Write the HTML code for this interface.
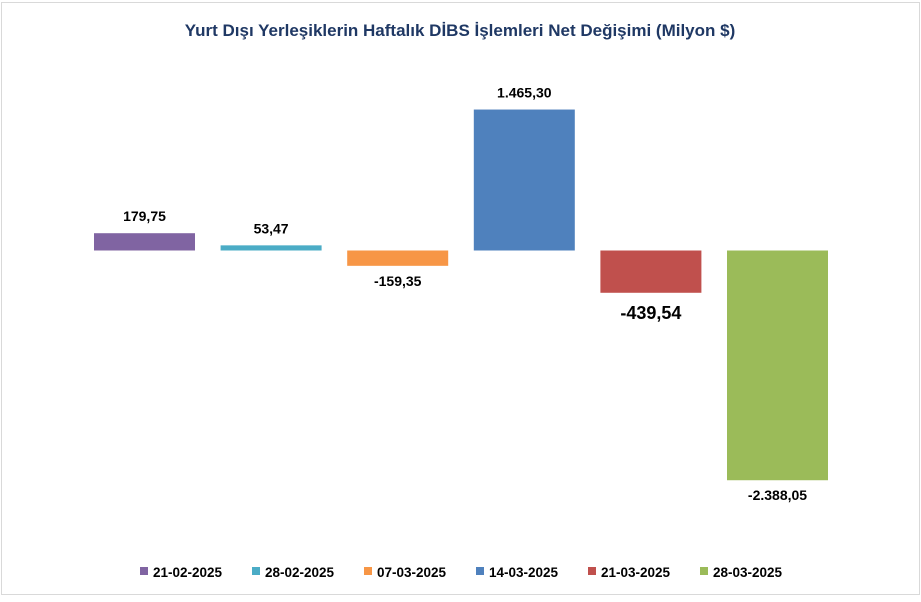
<!DOCTYPE html>
<html><head><meta charset="utf-8"><style>
body{margin:0;background:#fff;font-family:"Liberation Sans",sans-serif}
</style></head><body>
<svg width="921" height="597" xmlns="http://www.w3.org/2000/svg">
<rect x="1.5" y="2.5" width="918" height="592" fill="#fff" stroke="#d9d9d9"/>
<text x="460" y="36" text-anchor="middle" font-size="17" font-weight="bold" fill="#1f3864">Yurt Dışı Yerleşiklerin Haftalık DİBS İşlemleri Net Değişimi (Milyon $)</text>
<g id="bars"></g>
<g id="legend"></g>
</svg>
<script>
const categories=["21-02-2025","28-02-2025","07-03-2025","14-03-2025","21-03-2025","28-03-2025"];
const values=[179.75,53.47,-159.35,1465.30,-439.54,-2388.05];
const labels=["179,75","53,47","-159,35","1.465,30","-439,54","-2.388,05"];
const colors=["#8064a2","#4bacc6","#f79646","#4f81bd","#c0504d","#9bbb59"];
const NS="http://www.w3.org/2000/svg";
const zeroY=250.5, scale=0.0962;
function yOf(v){return zeroY-v*scale;}
function xCenter(i){return 144.5+126.6*i;}
const bw=101;
const bars=document.getElementById('bars');
values.forEach((v,i)=>{
 const r=document.createElementNS(NS,'rect');
 const y1=yOf(Math.max(v,0)),y2=yOf(Math.min(v,0));
 r.setAttribute('x',xCenter(i)-bw/2);r.setAttribute('y',y1);
 r.setAttribute('width',bw);r.setAttribute('height',Math.max(y2-y1,1));
 r.setAttribute('fill',colors[i]);
 
 
 bars.appendChild(r);
 const t=document.createElementNS(NS,'text');
 t.setAttribute('x',xCenter(i));
 const big=(i===4);
 t.setAttribute('y',v>=0?y1-12:y2+(big?26:20));
 t.setAttribute('text-anchor','middle');
 t.setAttribute('font-size',big?18:14);
 t.setAttribute('font-weight','bold');
 t.textContent=labels[i];
 
 
 bars.appendChild(t);
});
const lg=document.getElementById('legend');
categories.forEach((c,i)=>{
 const x=140+112*i;
 const m=document.createElementNS(NS,'rect');
 m.setAttribute('x',x);m.setAttribute('y',567);m.setAttribute('width',8);m.setAttribute('height',8);
 m.setAttribute('fill',colors[i]);
 
 
 lg.appendChild(m);
 const t=document.createElementNS(NS,'text');
 t.setAttribute('x',x+13);t.setAttribute('y',577);
 t.setAttribute('font-size',13.5);t.setAttribute('font-weight','bold');
 t.textContent=c;
 
 
 lg.appendChild(t);
});
</script>
</body></html>
